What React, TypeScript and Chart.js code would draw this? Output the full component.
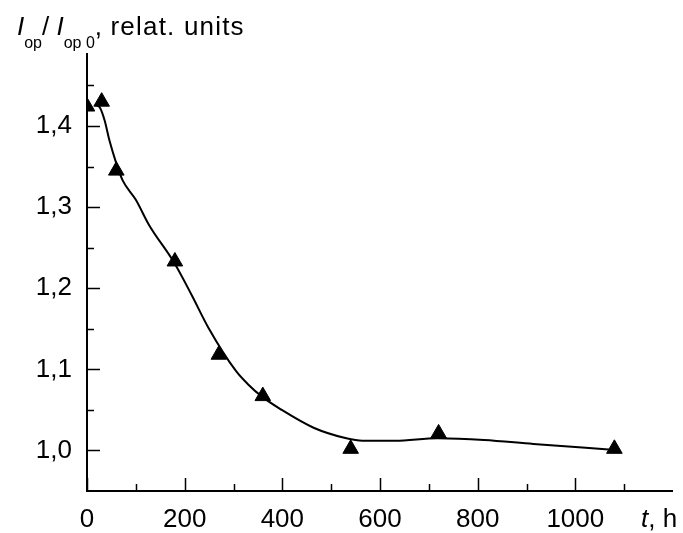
import React, { useEffect, useRef } from "react";
import { Chart, registerables } from "chart.js";

Chart.register(...registerables);

// measured points (t, h ; I_op / I_op0)
const MEAS_T = [0, 30, 60, 180, 270, 360, 540, 720, 1080];
const MEAS_V = [1.424, 1.43, 1.345, 1.233, 1.118, 1.067, 1.002, 1.021, 1.002];

// smooth fitted curve
const CURVE_T = [18, 26, 36, 46, 60, 73, 100, 127, 178, 214, 248, 305, 329, 359, 396, 464, 531, 564, 631, 718, 813, 914, 1075];
const CURVE_V = [1.426, 1.423, 1.407, 1.382, 1.354, 1.333, 1.309, 1.278, 1.232, 1.192, 1.152, 1.098, 1.082, 1.066, 1.051, 1.028, 1.015, 1.012, 1.012, 1.015, 1.013, 1.008, 1.001];

const X_TICKS = [0, 200, 400, 600, 800, 1000];
const X_MINOR = [100, 300, 500, 700, 900, 1100];
const Y_TICKS = [1.0, 1.1, 1.2, 1.3, 1.4];
const Y_MINOR = [1.05, 1.15, 1.25, 1.35, 1.45];

const FONT = "'Liberation Sans', Arial, sans-serif";

const axesPlugin = {
  id: "axesPlugin",
  beforeDatasetsDraw(chart: any) {
    const { ctx, chartArea } = chart;
    const xs = chart.scales.x;
    const ys = chart.scales.y;
    const L = chartArea.left;
    const B = chartArea.bottom;
    ctx.save();
    ctx.strokeStyle = "#000";
    ctx.lineWidth = 2;
    ctx.beginPath();
    ctx.moveTo(L, chartArea.top);
    ctx.lineTo(L, B);
    ctx.lineTo(chartArea.right, B);
    ctx.stroke();
    ctx.lineWidth = 1.5;
    ctx.beginPath();
    X_TICKS.forEach((v) => {
      const px = Math.round(xs.getPixelForValue(v)) + 0.5;
      ctx.moveTo(px, B);
      ctx.lineTo(px, B - 13);
    });
    X_MINOR.forEach((v) => {
      const px = Math.round(xs.getPixelForValue(v)) + 0.5;
      ctx.moveTo(px, B);
      ctx.lineTo(px, B - 7);
    });
    Y_TICKS.forEach((v) => {
      const py = Math.round(ys.getPixelForValue(v)) + 0.5;
      ctx.moveTo(L, py);
      ctx.lineTo(L + 13, py);
    });
    Y_MINOR.forEach((v) => {
      const py = Math.round(ys.getPixelForValue(v)) + 0.5;
      ctx.moveTo(L, py);
      ctx.lineTo(L + 7, py);
    });
    ctx.stroke();
    ctx.restore();
  },
  afterDraw(chart: any) {
    const { ctx } = chart;
    ctx.save();
    ctx.fillStyle = "#000";
    ctx.textBaseline = "alphabetic";
    const main = "26px " + FONT;
    const ital = "italic 26px " + FONT;
    const sub = "16px " + FONT;
    let x = 17;
    const base = 35;
    const subBase = 48;
    const put = (t: string, f: string, y: number, ls = "0px") => {
      ctx.font = f;
      (ctx as any).letterSpacing = ls;
      ctx.fillText(t, x, y);
      x += ctx.measureText(t).width;
    };
    put("I", ital, base);
    put("op", sub, subBase);
    put("/ ", main, base);
    put("I", ital, base);
    put("op 0", sub, subBase);
    put(",", main, base);
    put(" relat. units", main, base, "1.2px");

    // x-axis title
    x = 641;
    const xb = 527;
    put("t", ital, xb);
    put(", h", main, xb);
    ctx.restore();
  },
};

export default function App() {
  const ref = useRef<HTMLCanvasElement | null>(null);
  useEffect(() => {
    if (!ref.current) return;
    const chart = new Chart(ref.current, {
      type: "scatter",
      data: {
        datasets: [
          {
            type: "line",
            data: CURVE_T.map((t, i) => ({ x: t, y: CURVE_V[i] })),
            borderColor: "#000",
            borderWidth: 2,
            pointRadius: 0,
            cubicInterpolationMode: "monotone",
            fill: false,
            clip: 0,
          } as any,
          {
            data: MEAS_T.map((t, i) => ({ x: t, y: MEAS_V[i] })),
            pointStyle: "triangle",
            pointRadius: 9,
            backgroundColor: "#000",
            borderColor: "#000",
            borderWidth: 1,
            clip: 0,
          } as any,
        ],
      },
      options: {
        responsive: false,
        animation: false,
        layout: { padding: { left: 0, top: 53, right: 1, bottom: 0 } },
        plugins: { legend: { display: false }, tooltip: { enabled: false } },
        scales: {
          x: {
            type: "linear",
            min: 0,
            max: 1200,
            grid: { display: false },
            border: { display: false },
            afterBuildTicks: (s: any) => {
              s.ticks = X_TICKS.map((v) => ({ value: v }));
            },
            afterFit: (s: any) => {
              s.height = 42;
            },
            ticks: {
              color: "#000",
              font: { family: FONT, size: 26 },
              padding: 5,
              maxRotation: 0,
              autoSkip: false,
              callback: (v: any) => String(v),
            },
          },
          y: {
            type: "linear",
            min: 0.95,
            max: 1.49,
            grid: { display: false },
            border: { display: false },
            afterBuildTicks: (s: any) => {
              s.ticks = Y_TICKS.map((v) => ({ value: v }));
            },
            afterFit: (s: any) => {
              s.width = 87;
            },
            ticks: {
              color: "#000",
              font: { family: FONT, size: 26 },
              padding: 7,
              autoSkip: false,
              callback: (v: any) => Number(v).toFixed(1).replace(".", ","),
            },
          },
        },
      },
      plugins: [axesPlugin],
    });
    return () => chart.destroy();
  }, []);
  return (
    <div style={{ position: "fixed", left: 0, top: 0, width: 683, height: 533, background: "#fff" }}>
      <canvas ref={ref} width={683} height={533} />
    </div>
  );
}
